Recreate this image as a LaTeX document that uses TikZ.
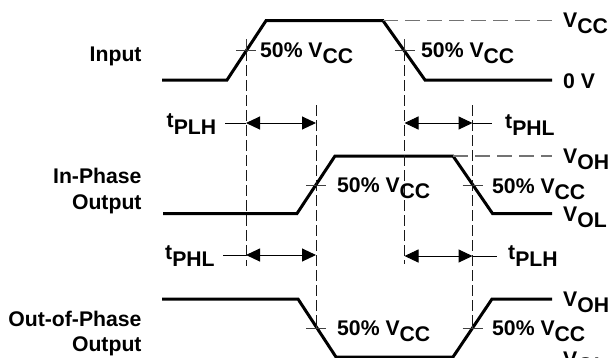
\documentclass[tikz,border=0pt]{standalone}
\usepackage{fontspec}
\setmainfont{Liberation Sans}
\usetikzlibrary{arrows.meta}
\newcommand{\lowsub}[1]{\raisebox{-6pt}{#1}}
\newcommand{\tlow}[1]{t\raisebox{-7.5pt}{#1}}
\begin{document}
\begin{tikzpicture}[x=1pt,y=-1pt,
  wave/.style={line width=3pt, draw=black, line join=miter},
  vdash/.style={line width=1pt, draw=black!90, dash pattern=on 11pt off 4pt},
  hdash/.style={line width=1.4pt, draw=black!55, dash pattern=on 15pt off 7pt},
  xhair/.style={line width=1pt, draw=black!75},
  dimline/.style={line width=1pt, draw=black, {Triangle[length=14pt,width=13pt]}-{Triangle[length=14pt,width=13pt]}},
  lead/.style={line width=1pt, draw=black},
  lbl/.style={font=\fontsize{21.2}{25}\selectfont\bfseries, inner sep=0pt},
]
\useasboundingbox (0,0) rectangle (609,357);
\clip (0,0) rectangle (609,357);

% ---- coordinates: input
\coordinate (i0) at (162,80);
\coordinate (i1) at (227,80);
\coordinate (i2) at (266,20.7);
\coordinate (i3) at (383,20.7);
\coordinate (i4) at (425,80);
\coordinate (i5) at (552,80);
\coordinate (iv) at (552,20.7);
% ---- in-phase
\coordinate (p0) at (163,213.5);
\coordinate (p1) at (297,213.5);
\coordinate (p2) at (335,156);
\coordinate (p3) at (453,156);
\coordinate (p4) at (492.5,213.5);
\coordinate (p5) at (552,213.5);
\coordinate (pv) at (552,156);
% ---- out-of-phase
\coordinate (q0) at (162,299);
\coordinate (q1) at (298,299);
\coordinate (q2) at (336,357);
\coordinate (q3) at (453,357);
\coordinate (q4) at (492,299);
\coordinate (q5) at (552,299);

% ---- waveforms
\draw[wave] (i0) -- (i1) -- (i2) -- (i3) -- (i4) -- (i5);
\draw[wave] (p0) -- (p1) -- (p2) -- (p3) -- (p4) -- (p5);
\draw[wave] (q0) -- (q1) -- (q2) -- (q3) -- (q4) -- (q5);
\draw[hdash] (i3) -- (iv);
\draw[hdash] (p3) -- (pv);

% ---- 50% crossing points
\coordinate (cA) at (246,50.4);
\coordinate (cB) at (404.5,50.4);
\coordinate (cC) at (316,185);
\coordinate (cD) at (472.5,185);
\coordinate (cE) at (316,328);
\coordinate (cF) at (472.5,328);
\foreach \c in {cA,cB,cC,cD,cE,cF}{
  \draw[xhair] ([xshift=-10pt]\c) -- ([xshift=10pt]\c);
}
\foreach \c in {cA,cB}{
  \draw[xhair] ([yshift=-11pt]\c) -- ([yshift=11pt]\c);
}
\foreach \c in {cE,cF}{
  \draw[xhair] (\c) -- ([yshift=8pt]\c);
}

% ---- vertical dashed lines
\coordinate (eA) at (246,266);
\coordinate (eB) at (404.5,264);
\coordinate (sC) at (316,105);
\coordinate (sD) at (472.5,105);
\draw[vdash] (cA) -- (eA);
\draw[vdash] (cB) -- (eB);
\draw[vdash] (sC) -- (cE);
\draw[vdash] (sD) -- (cF);

% ---- timing arrows
\coordinate (a0) at (225,123);
\coordinate (a1) at (246,123);
\coordinate (a2) at (316,123);
\coordinate (a3) at (404.5,123);
\coordinate (a4) at (472.5,123);
\coordinate (a5) at (492,123);
\coordinate (b0) at (223,255);
\coordinate (b1) at (246,255);
\coordinate (b2) at (316,255);
\coordinate (b3) at (404.5,256);
\coordinate (b4) at (472.5,256);
\coordinate (b5) at (497,256);
\draw[lead] (a0) -- (a1);
\draw[dimline] (a1) -- (a2);
\draw[dimline] (a3) -- (a4);
\draw[lead] (a4) -- (a5);
\draw[lead] (b0) -- (b1);
\draw[dimline] (b1) -- (b2);
\draw[dimline] (b3) -- (b4);
\draw[lead] (b4) -- (b5);

% ---- left labels
\node[lbl, anchor=base east] (lin) at (141.7,61) {Input};
\node[lbl, anchor=base east] (lip1) at (141.7,183) {In-Phase};
\node[lbl, anchor=base east] (lip2) at (141.7,209) {Output};
\node[lbl, anchor=base east] (lop1) at (141.7,326) {Out-of-Phase};
\node[lbl, anchor=base east] (lop2) at (141.7,351.5) {Output};

% ---- 50% labels
\node[lbl, anchor=base west] (h1) at (260,57.5) {50\% V\lowsub{CC}};
\node[lbl, anchor=base west] (h2) at (421,57.5) {50\% V\lowsub{CC}};
\node[lbl, anchor=base west] (h3) at (337,192) {50\% V\lowsub{CC}};
\node[lbl, anchor=base west] (h4) at (492,193) {50\% V\lowsub{CC}};
\node[lbl, anchor=base west] (h5) at (337,335.5) {50\% V\lowsub{CC}};
\node[lbl, anchor=base west] (h6) at (492,335.5) {50\% V\lowsub{CC}};

% ---- right level labels
\node[lbl, anchor=base west] (r1) at (563,27.5) {V\lowsub{CC}};
\node[lbl, anchor=base west] (r2) at (563,88) {0 V};
\node[lbl, anchor=base west] (r3) at (563,163) {V\lowsub{OH}};
\node[lbl, anchor=base west] (r4) at (563,221) {V\lowsub{OL}};
\node[lbl, anchor=base west] (r5) at (563,306) {V\lowsub{OH}};
\node[lbl, anchor=base west] (r6) at (563,366) {V\lowsub{OL}};

% ---- timing labels
\node[lbl, anchor=base west] (t1) at (166.5,127) {\tlow{PLH}};
\node[lbl, anchor=base west] (t2) at (505,128) {\tlow{PHL}};
\node[lbl, anchor=base west] (t3) at (165,259) {\tlow{PHL}};
\node[lbl, anchor=base west] (t4) at (508,259) {\tlow{PLH}};
\end{tikzpicture}
\end{document}
